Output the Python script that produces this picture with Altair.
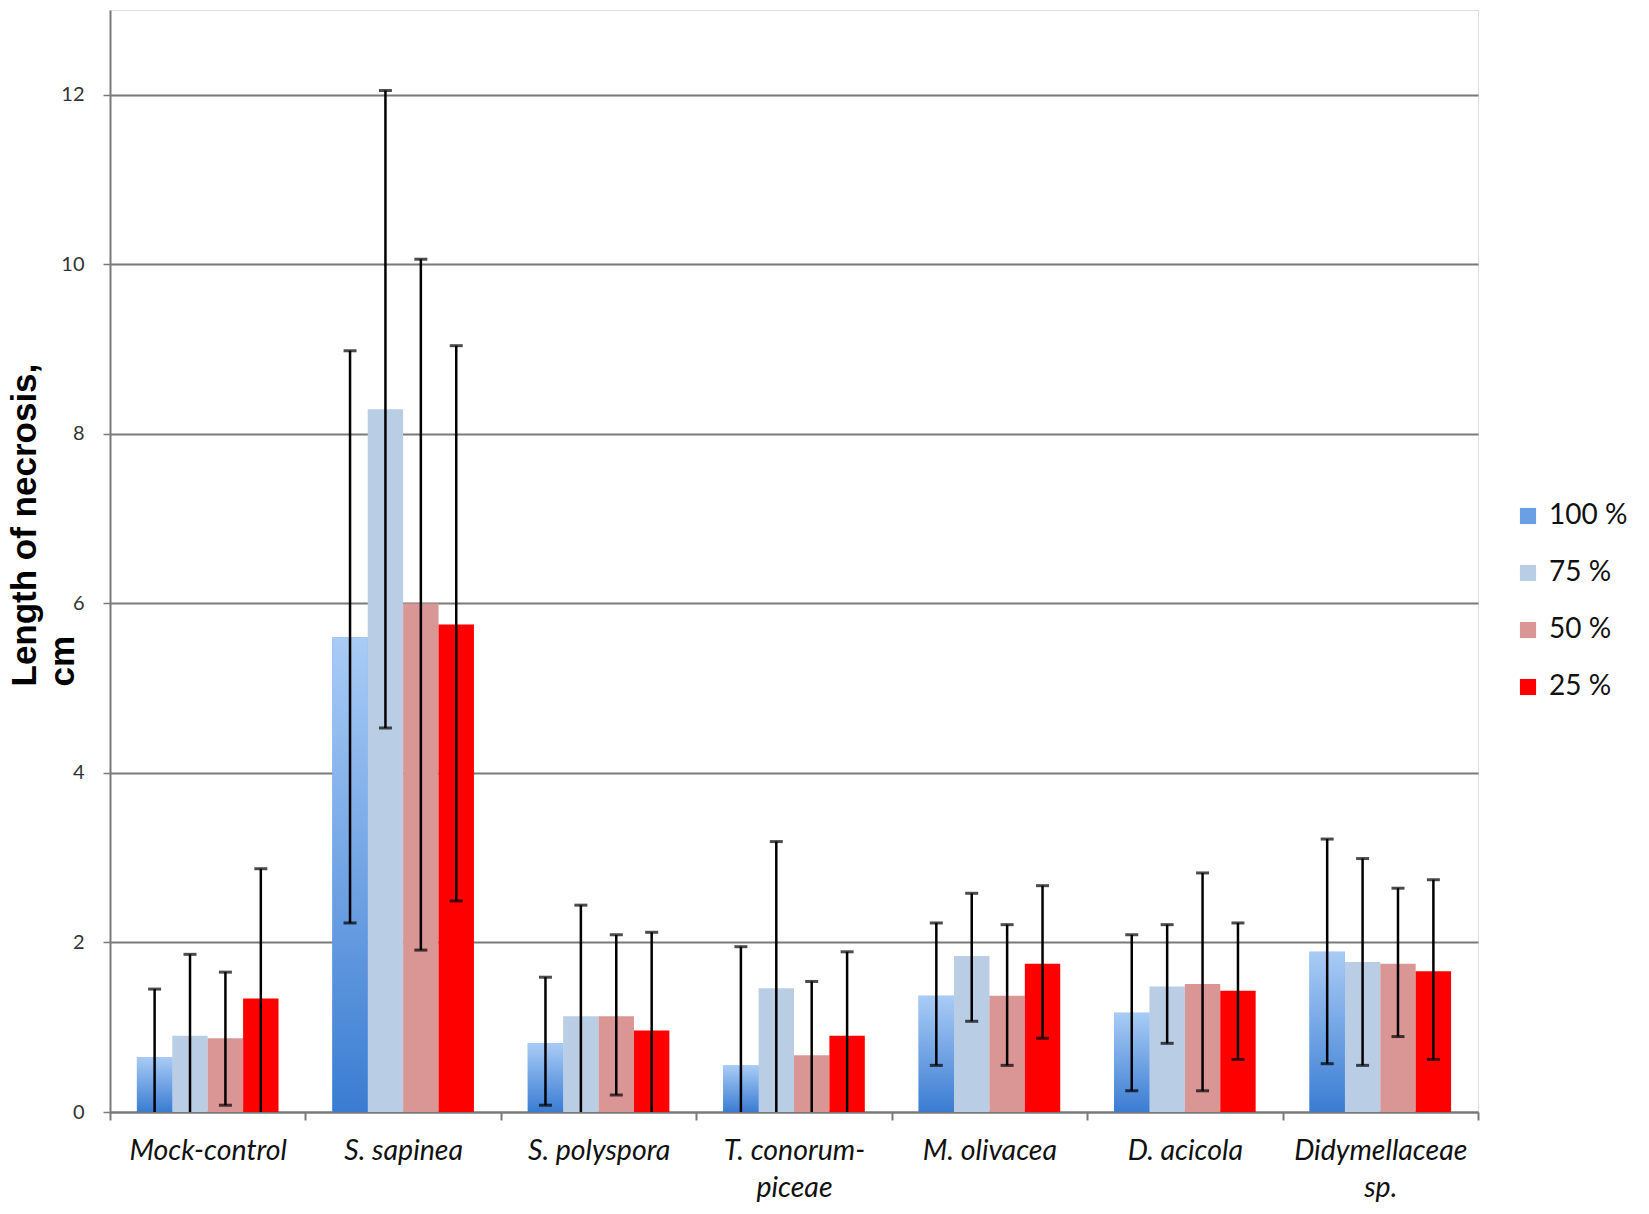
import altair as alt
import pandas as pd

categories = ["Mock-control", "S. sapinea", "S. polyspora", "T. conorum-\npiceae",
              "M. olivacea", "D. acicola", "Didymellaceae\nsp."]
series = ["100 %", "75 %", "50 %", "25 %"]

mean_100 = [0.65, 5.60, 0.81, 0.55, 1.37, 1.17, 1.89]
mean_75 = [0.90, 8.29, 1.13, 1.46, 1.84, 1.48, 1.77]
mean_50 = [0.87, 6.00, 1.13, 0.67, 1.37, 1.51, 1.75]
mean_25 = [1.34, 5.75, 0.96, 0.90, 1.75, 1.43, 1.66]

hi_100 = [1.45, 8.98, 1.59, 1.95, 2.23, 2.09, 3.22]
hi_75 = [1.86, 12.05, 2.44, 3.19, 2.58, 2.21, 2.99]
hi_50 = [1.65, 10.06, 2.09, 1.54, 2.21, 2.82, 2.64]
hi_25 = [2.87, 9.04, 2.12, 1.89, 2.67, 2.23, 2.74]

lo_100 = [0.0, 2.23, 0.08, 0.0, 0.55, 0.25, 0.57]
lo_75 = [0.0, 4.53, 0.0, 0.0, 1.07, 0.81, 0.55]
lo_50 = [0.08, 1.91, 0.20, 0.0, 0.55, 0.25, 0.89]
lo_25 = [0.0, 2.49, 0.0, 0.0, 0.87, 0.62, 0.62]

colors = ["#6a9fe4", "#b9cde5", "#d99694", "#ff0000"]

means = [mean_100, mean_75, mean_50, mean_25]
his = [hi_100, hi_75, hi_50, hi_25]
los = [lo_100, lo_75, lo_50, lo_25]

rows = []
for s, m, h, l in zip(series, means, his, los):
    for i, c in enumerate(categories):
        rows.append({"cat": c, "series": s, "mean": m[i], "hi": h[i], "lo": l[i]})
df = pd.DataFrame(rows)

x_scale = alt.Scale(paddingInner=0, paddingOuter=0)
x_enc = alt.X("cat:N", sort=categories, title=None, scale=x_scale,
              axis=alt.Axis(labelAngle=0, tickBand="extent", grid=False,
                            labelExpr="split(datum.label, '\\n')",
                            labelFont="Lato", labelFontSize=28.5, labelFontStyle="italic",
                            labelColor="#111111", labelLineHeight=37, labelPadding=16,
                            tickSize=8, tickColor="#7a7a7a", tickWidth=2,
                            domainColor="#7a7a7a", domainWidth=2))
xo_enc = alt.XOffset("series:N", sort=series,
                     scale=alt.Scale(domain=series, paddingInner=0, paddingOuter=0.76))

y_scale = alt.Scale(domain=[0, 13], nice=False)
y_axis = alt.Axis(values=[0, 2, 4, 6, 8, 10, 12], format="d", grid=True,
                  gridColor="#7a7a7a", gridWidth=1.8,
                  domainColor="#7a7a7a", domainWidth=2, tickColor="#7a7a7a", tickSize=7,
                  tickWidth=1.5, labelFont="Lato", labelFontSize=20, labelColor="#333333",
                  labelPadding=19,
                  title=["Length of necrosis,", "cm"], titleFont="Liberation Sans",
                  titleFontSize=35, titleFontWeight="bold", titleColor="#000000",
                  titleAngle=270, titleAlign="left", titleBaseline="bottom",
                  titleLineHeight=38, titleX=-68, titleY=676)

base = alt.Chart(df)

bars = base.mark_bar().encode(
    x=x_enc,
    xOffset=xo_enc,
    y=alt.Y("mean:Q", scale=y_scale, axis=y_axis),
    color=alt.Color("series:N", sort=series,
                    scale=alt.Scale(domain=series, range=colors),
                    legend=alt.Legend(title=None, orient="none", legendX=1404, legendY=492,
                                      symbolType="square", symbolSize=260,
                                      symbolStrokeWidth=0, labelFont="Lato",
                                      labelFontSize=28, labelColor="#111111",
                                      labelOffset=7, rowPadding=29, padding=0)),
)

grad = alt.LinearGradient(
    gradient="linear", x1=0, x2=0, y1=0, y2=1,
    stops=[alt.GradientStop(offset=0, color="#a9ccf6"),
           alt.GradientStop(offset=1, color="#3a7cd2")])

bars100 = base.transform_filter(alt.datum.series == "100 %").mark_bar(color=grad).encode(
    x=alt.X("cat:N", sort=categories, scale=x_scale),
    xOffset=xo_enc,
    y=alt.Y("mean:Q", scale=y_scale),
)

rules = base.mark_rule(color="black", strokeWidth=2.5).encode(
    x=alt.X("cat:N", sort=categories, scale=x_scale),
    xOffset=xo_enc,
    y=alt.Y("lo:Q", scale=y_scale),
    y2="hi:Q",
)

caps_hi = base.mark_tick(color="black", thickness=3, size=13).encode(
    x=alt.X("cat:N", sort=categories, scale=x_scale),
    xOffset=xo_enc,
    y=alt.Y("hi:Q", scale=y_scale),
)

caps_lo = base.transform_filter(alt.datum.lo > 0).mark_tick(color="black", thickness=3, size=13).encode(
    x=alt.X("cat:N", sort=categories, scale=x_scale),
    xOffset=xo_enc,
    y=alt.Y("lo:Q", scale=y_scale),
)

chart = alt.layer(bars, bars100, rules, caps_hi, caps_lo).properties(
    width=1368, height=1102,
    autosize=alt.AutoSizeParams(type="none"),
    padding={"left": 102, "top": 2, "right": 160, "bottom": 90},
).configure_view(stroke="transparent", strokeWidth=0).configure(background="white")

chart.save("out.html", embed_options={"renderer": "svg", "actions": False})
